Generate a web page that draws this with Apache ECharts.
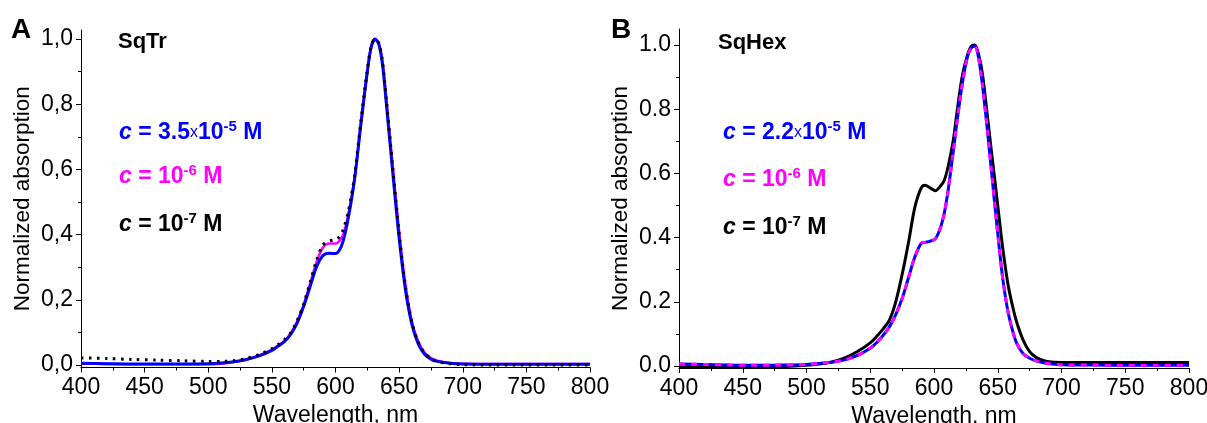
<!DOCTYPE html>
<html>
<head>
<meta charset="utf-8">
<script src="https://cdn.jsdelivr.net/npm/echarts@6/dist/echarts.min.js"></script>
<style>
  html, body { margin: 0; padding: 0; background: #fff; }
  #chart { width: 1207px; height: 423px; }
</style>
</head>
<body>
<div id="chart"></div>
<script>
// panel A: SqTr
const wlA = [400, 420, 440, 460, 480, 500, 510, 520, 530, 540, 550, 555, 560, 565, 570, 575, 580, 585, 590, 595,
  600, 603, 606, 610, 615, 620, 625, 628, 631, 634, 637, 640, 645, 650, 655, 660, 665, 670, 675, 680,
  690, 700, 725, 750, 775, 800]
const sqTrHigh = [0.005, 0.004, 0.003, 0.003, 0.003, 0.004, 0.006, 0.010, 0.017, 0.028, 0.045, 0.058, 0.072, 0.095, 0.13, 0.18, 0.24, 0.30, 0.335, 0.343,
  0.342, 0.352, 0.38, 0.45, 0.57, 0.74, 0.90, 0.975, 1.0, 0.985, 0.92, 0.80, 0.59, 0.39, 0.23, 0.125, 0.065, 0.033, 0.018, 0.011,
  0.005, 0.003, 0.002, 0.002, 0.002, 0.002]
const sqTrMid = [0.004, 0.003, 0.002, 0.002, 0.002, 0.002, 0.004, 0.009, 0.017, 0.029, 0.047, 0.06, 0.075, 0.098, 0.135, 0.185, 0.25, 0.315, 0.36, 0.373,
  0.373, 0.38, 0.40, 0.46, 0.575, 0.745, 0.90, 0.975, 1.0, 0.988, 0.93, 0.815, 0.61, 0.41, 0.245, 0.135, 0.072, 0.038, 0.021, 0.013,
  0.006, 0.004, 0.003, 0.003, 0.003, 0.003]
const sqTrLow = [0.022, 0.02, 0.017, 0.015, 0.013, 0.011, 0.011, 0.013, 0.02, 0.032, 0.05, 0.063, 0.078, 0.10, 0.137, 0.187, 0.252, 0.32, 0.368, 0.38,
  0.385, 0.393, 0.415, 0.47, 0.58, 0.75, 0.905, 0.978, 1.0, 0.988, 0.928, 0.812, 0.605, 0.405, 0.24, 0.132, 0.07, 0.037, 0.02, 0.011,
  0.004, 0.001, 0, 0, 0, 0]

// panel B: SqHex
const wlB = [400, 420, 440, 460, 480, 500, 510, 520, 530, 540, 550, 555, 560, 565, 570, 575, 580, 585, 590, 593,
  597, 601, 605, 608, 611, 615, 618, 622, 626, 629, 632, 635, 638, 642, 645, 648, 651, 654, 658, 662,
  665, 670, 675, 680, 685, 690, 700, 725, 750, 775, 800]
const sqHexHigh = [0.006, 0.005, 0.003, 0.002, 0.003, 0.005, 0.008, 0.012, 0.019, 0.033, 0.055, 0.073, 0.095, 0.122, 0.16, 0.21, 0.275, 0.34, 0.382, 0.385,
  0.389, 0.396, 0.43, 0.475, 0.545, 0.665, 0.76, 0.875, 0.96, 0.99, 0.997, 0.96, 0.875, 0.73, 0.61, 0.49, 0.375, 0.27, 0.17, 0.105,
  0.07, 0.038, 0.024, 0.016, 0.011, 0.008, 0.004, 0.003, 0.002, 0.002, 0.002]
const sqHexMid = [0.006, 0.005, 0.003, 0.002, 0.003, 0.005, 0.008, 0.012, 0.019, 0.033, 0.055, 0.073, 0.095, 0.122, 0.16, 0.21, 0.275, 0.34, 0.382, 0.385,
  0.389, 0.396, 0.43, 0.475, 0.545, 0.665, 0.76, 0.875, 0.96, 0.99, 0.997, 0.96, 0.875, 0.73, 0.61, 0.49, 0.375, 0.27, 0.17, 0.105,
  0.07, 0.038, 0.024, 0.016, 0.011, 0.008, 0.004, 0.003, 0.002, 0.002, 0.002]
const sqHexLow = [-0.002, -0.003, -0.004, -0.004, -0.002, 0.002, 0.006, 0.013, 0.025, 0.045, 0.072, 0.092, 0.115, 0.143, 0.2, 0.285, 0.385, 0.495, 0.555, 0.563,
  0.555, 0.546, 0.56, 0.578, 0.62, 0.7, 0.79, 0.9, 0.965, 0.995, 1.0, 0.97, 0.91, 0.775, 0.67, 0.57, 0.465, 0.365, 0.255, 0.18,
  0.135, 0.08, 0.045, 0.027, 0.018, 0.013, 0.011, 0.011, 0.011, 0.011, 0.011]

const yMajor = [0, 0.2, 0.4, 0.6, 0.8, 1.0]
const yMinor = [0.1, 0.3, 0.5, 0.7, 0.9]

const FONT = 'Liberation Sans, Arial, sans-serif'
const BLUE = '#0000ff'
const MAGENTA = '#ff00ff'

function pairs(xs, ys) {
  return xs.map((x, i) => [x, ys[i]])
}

function xAxisOf(gridIndex) {
  return {
    type: 'value',
    gridIndex: gridIndex,
    min: 400,
    max: 800,
    interval: 50,
    name: 'Wavelength, nm',
    nameLocation: 'middle',
    nameGap: 36,
    nameTextStyle: { color: '#000', fontSize: 23, fontFamily: FONT },
    axisLine: { show: true, onZero: false, lineStyle: { color: '#000', width: 1 } },
    axisTick: { show: true, length: 5, lineStyle: { color: '#000' } },
    minorTick: { show: true, splitNumber: 2, length: 3, lineStyle: { color: '#000' } },
    splitLine: { show: false },
    axisLabel: { color: '#000', fontSize: 23, fontFamily: FONT, margin: 9 },
  }
}

function yAxesOf(gridIndex, min, max, sep) {
  return [
    {
      type: 'value',
      gridIndex: gridIndex,
      min: min,
      max: max,
      name: 'Normalized absorption',
      nameLocation: 'middle',
      nameGap: 47,
      nameTextStyle: { color: '#000', fontSize: 22.5, fontFamily: FONT },
      axisLine: { show: true, onZero: false, lineStyle: { color: '#000', width: 1 } },
      axisTick: { show: true, length: 5, customValues: yMajor, lineStyle: { color: '#000' } },
      splitLine: { show: false },
      axisLabel: {
        color: '#000', fontSize: 23, fontFamily: FONT, margin: 8,
        customValues: yMajor,
        formatter: (v) => v.toFixed(1).replace('.', sep)
      }
    },
    {
      // minor ticks only
      type: 'value',
      gridIndex: gridIndex,
      min: min,
      max: max,
      position: 'left',
      axisLine: { show: false },
      axisTick: { show: true, length: 3, customValues: yMinor, lineStyle: { color: '#000' } },
      axisLabel: { show: false },
      splitLine: { show: false }
    }
  ]
}

function label(x, y, text, size, color) {
  return {
    type: 'text',
    x: x,
    y: y,
    style: {
      text: text,
      fill: color,
      font: 'bold ' + size + 'px ' + FONT,
      align: 'left',
      verticalAlign: 'middle'
    }
  }
}

function concLabel(x, y, mant, exp, color) {
  const rich = {
    i: { fill: color, fontSize: 23, fontWeight: 'bold', fontStyle: 'italic', fontFamily: FONT, lineHeight: 28 },
    b: { fill: color, fontSize: 23, fontWeight: 'bold', fontFamily: FONT, lineHeight: 28 },
    x: { fill: color, fontSize: 16, fontWeight: 'normal', fontFamily: FONT, lineHeight: 28 },
    s: { fill: color, fontSize: 15, fontWeight: 'bold', fontFamily: FONT, lineHeight: 13, verticalAlign: 'top' }
  }
  let text = '{i|c}{b| = '
  text += mant ? mant + '}{x|x}{b|10}' : '10}'
  text += '{s|' + exp + '}{b| M}'
  return {
    type: 'text',
    x: x,
    y: y,
    style: { text: text, rich: rich, align: 'left', verticalAlign: 'middle' }
  }
}

const chart = echarts.init(document.getElementById('chart'), null, { renderer: 'canvas' })

const option = {
  backgroundColor: '#fff',
  animation: false,
  grid: [
    { left: 81, top: 30, width: 509, height: 337.5, outerBoundsMode: 'none', containLabel: false },
    { left: 679, top: 29, width: 510, height: 339, outerBoundsMode: 'none', containLabel: false }
  ],
  xAxis: [xAxisOf(0), xAxisOf(1)],
  yAxis: yAxesOf(0, -0.0077, 1.028, ',').concat(yAxesOf(1, -0.0062, 1.05, '.')),
  series: [
    {
      type: 'line', xAxisIndex: 0, yAxisIndex: 0, data: pairs(wlA, sqTrMid),
      showSymbol: false, smooth: 0.3, lineStyle: { color: MAGENTA, width: 2.5 }
    },
    {
      type: 'line', xAxisIndex: 0, yAxisIndex: 0, data: pairs(wlA, sqTrHigh),
      showSymbol: false, smooth: 0.3, lineStyle: { color: BLUE, width: 3 }
    },
    {
      type: 'line', xAxisIndex: 0, yAxisIndex: 0, data: pairs(wlA, sqTrLow),
      showSymbol: false, smooth: 0.3, lineStyle: { color: '#000', width: 3, type: [2.5, 5.5] }
    },
    {
      type: 'line', xAxisIndex: 1, yAxisIndex: 2, data: pairs(wlB, sqHexLow),
      showSymbol: false, smooth: 0.3, lineStyle: { color: '#000', width: 3 }
    },
    {
      type: 'line', xAxisIndex: 1, yAxisIndex: 2, data: pairs(wlB, sqHexHigh),
      showSymbol: false, smooth: 0.3, lineStyle: { color: BLUE, width: 3 }
    },
    {
      type: 'line', xAxisIndex: 1, yAxisIndex: 2, data: pairs(wlB, sqHexMid),
      showSymbol: false, smooth: 0.3, lineStyle: { color: MAGENTA, width: 3, type: [6, 6] }
    }
  ],
  graphic: [
    label(11, 30, 'A', 28, '#000'),
    label(611, 30, 'B', 28, '#000'),
    label(118, 42, 'SqTr', 22, '#000'),
    label(718, 43, 'SqHex', 22, '#000'),
    concLabel(119, 133, '3.5', '-5', BLUE),
    concLabel(119, 177, '', '-6', MAGENTA),
    concLabel(119, 225, '', '-7', '#000'),
    concLabel(723, 133, '2.2', '-5', BLUE),
    concLabel(723, 180, '', '-6', MAGENTA),
    concLabel(723, 228, '', '-7', '#000')
  ]
}

chart.setOption(option)
</script>
</body>
</html>
